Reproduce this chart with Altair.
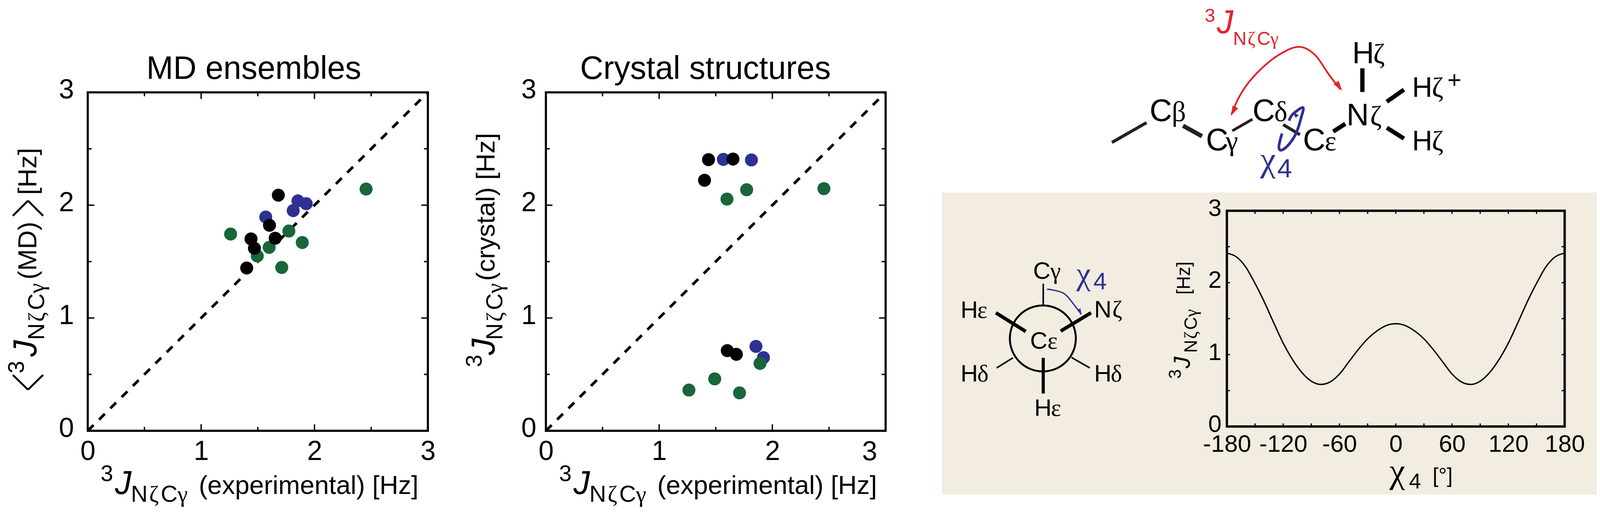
import altair as alt
import pandas as pd

# ---- data ----
md_green_x = [1.26, 1.495, 1.60, 1.774, 1.892, 1.711, 2.455]
md_green_y = [1.744, 1.55, 1.626, 1.771, 1.669, 1.448, 2.143]
md_black_x = [1.402, 1.44, 1.47, 1.603, 1.653, 1.681]
md_black_y = [1.443, 1.701, 1.618, 1.822, 1.707, 2.089]
md_blue_x = [1.57, 1.812, 1.854, 1.927]
md_blue_y = [1.895, 1.952, 2.038, 2.013]

cr_green_x = [1.599, 1.773, 2.455, 1.263, 1.491, 1.71, 1.891]
cr_green_y = [2.054, 2.137, 2.147, 0.361, 0.46, 0.336, 0.598]
cr_black_x = [1.436, 1.652, 1.401, 1.602, 1.682]
cr_black_y = [2.404, 2.409, 2.221, 0.711, 0.678]
cr_blue_x = [1.567, 1.815, 1.855, 1.921]
cr_blue_y = [2.406, 2.401, 0.748, 0.649]

chi4 = [-180, -170, -160, -150, -140, -130, -120, -110, -100, -90, -80, -70, -60, -50, -40, -30, -20, -10, 0,
        10, 20, 30, 40, 50, 60, 70, 80, 90, 100, 110, 120, 130, 140, 150, 160, 170, 180]
j_chi4 = [2.41, 2.36, 2.22, 1.99, 1.73, 1.44, 1.16, 0.93, 0.75, 0.63, 0.585, 0.62, 0.73, 0.90, 1.07, 1.22, 1.33, 1.405, 1.43,
          1.405, 1.33, 1.22, 1.07, 0.90, 0.73, 0.62, 0.585, 0.63, 0.75, 0.93, 1.16, 1.44, 1.73, 1.99, 2.22, 2.36, 2.41]

diag = [0, 3]
minor_ticks = [0.5, 1.5, 2.5]
major_ticks = [1, 2]
inset_x_ticks = [-150, -120, -90, -60, -30, 0, 30, 60, 90, 120, 150]
inset_y_ticks = [0.5, 1, 1.5, 2, 2.5]
inset_x_labels = [-180, -120, -60, 0, 60, 120, 180]

GREEN, BLUE, RED, BEIGE = "#18663a", "#2e3192", "#e3232a", "#f2ece1"
SANS, SERIF = "Liberation Sans", "Liberation Serif"

PW, PH = 4113, 1324
layers = []


def canvas_x(**kw):
    return alt.X("x:Q", scale=alt.Scale(domain=[0, PW], range=[-8, PW - 8], nice=False, zero=False), axis=None, **kw)


def canvas_y(**kw):
    return alt.Y("y:Q", scale=alt.Scale(domain=[0, PH], range=[-8, PH - 8], nice=False, zero=False), axis=None, **kw)


def plot_layers(box, xdom, ydom, xvals, yvals, series, xticks, yticks, font, ylab_pad, xlab_pad, frame=5.5, curve=None,
                diag_line=True, fix3=None):
    left, top, right, bottom = box
    xs = alt.Scale(domain=xdom, range=[left - 8, right - 8], nice=False, zero=False)
    ys = alt.Scale(domain=ydom, range=[bottom - 8, top - 8], nice=False, zero=False)
    out = []
    # labelled axes
    ax_x = alt.Axis(orient="bottom", offset=(bottom - 8) - (PH - 24), values=xvals, labelExpr="'' + datum.value", domain=False, ticks=False,
                    grid=False, title=None, labelFont=SANS, labelFontSize=font, labelColor="black", zindex=1,
                    labelPadding=xlab_pad, labelFlush=False, labelBound=False, labelOverlap=False)
    ax_y = alt.Axis(orient="left", offset=-(left - 8), values=yvals, labelExpr="'' + datum.value", domain=False, ticks=False,
                    grid=False, title=None, labelFont=SANS, labelFontSize=font, labelColor="black", zindex=1,
                    labelPadding=ylab_pad, labelOffset=-6, labelFlush=False, labelBound=False, labelOverlap=False)
    frame_df = pd.DataFrame({"x": [xdom[0]], "x2": [xdom[1]], "y": [ydom[0]], "y2": [ydom[1]]})
    out.append(alt.Chart(frame_df).mark_rect(fillOpacity=0, stroke="black", strokeWidth=frame).encode(
        x=alt.X("x:Q", scale=xs, axis=ax_x), x2="x2:Q", y=alt.Y("y:Q", scale=ys, axis=ax_y), y2="y2:Q"))
    # inward ticks on all four edges
    for vals, ln, w in xticks:
        d = pd.DataFrame({"v": vals})
        for a, b in ((bottom, bottom - ln), (top, top + ln)):
            out.append(alt.Chart(d).mark_rule(color="black", strokeWidth=w).encode(
                x=alt.X("v:Q", scale=xs, axis=None), y=alt.value(a - 8), y2=alt.value(b - 8)))
    for vals, ln, w in yticks:
        d = pd.DataFrame({"v": vals})
        for a, b in ((left, left + ln), (right, right - ln)):
            out.append(alt.Chart(d).mark_rule(color="black", strokeWidth=w).encode(
                y=alt.Y("v:Q", scale=ys, axis=None), x=alt.value(a - 8), x2=alt.value(b - 8)))
    if diag_line:
        d = pd.DataFrame({"a": diag, "b": diag})
        out.append(alt.Chart(d).mark_line(color="black", strokeWidth=7, strokeDash=[21, 20]).encode(
            x=alt.X("a:Q", scale=xs, axis=None), y=alt.Y("b:Q", scale=ys, axis=None)))
    for xv, yv, col in series:
        d = pd.DataFrame({"a": xv, "b": yv})
        out.append(alt.Chart(d).mark_point(filled=True, opacity=1, size=1120, color=col, shape="circle").encode(
            x=alt.X("a:Q", scale=xs, axis=None), y=alt.Y("b:Q", scale=ys, axis=None)))
    if curve is not None:
        d = pd.DataFrame({"a": curve[0], "b": curve[1]})
        out.append(alt.Chart(d).mark_line(color="black", strokeWidth=3.5, interpolate="monotone").encode(
            x=alt.X("a:Q", scale=xs, axis=None), y=alt.Y("b:Q", scale=ys, axis=None)))
    if fix3 is not None:
        d = pd.DataFrame({"a": [fix3], "b": [0], "t": [str(fix3)]})
        out.append(alt.Chart(d).mark_text(font=SANS, fontSize=font, baseline="top", dx=-41, dy=xlab_pad + 1, color="black").encode(
            x=alt.X("a:Q", scale=xs, axis=None), y=alt.Y("b:Q", scale=ys, axis=None), text="t:N"))
    return out


# ---- annotation pieces ----
texts = []


def T(x, y, s, size, color="black", font="sans", angle=0):
    texts.append(dict(x=x, y=y, t=s, size=size, color=color, font=font, angle=angle))


def sub(x, y, size, color="black", vertical=False):
    k = size / 60
    for s, off, f in (("N", 0, "sans"), ("ζ", 47, "serif"), ("C", 77, "sans"), ("γ", 120, "serif")):
        if vertical:
            T(x, y - off * k, s, size, color, f, 270)
        else:
            T(x + off * k, y, s, size, color, f)


def xlabel(dx):
    T(1440 + dx, 1236, "3", 58)
    T(1477 + dx, 1269, "J", 85, font="italic")
    sub(1518 + dx, 1289, 60)
    T(1693 + dx, 1269, "(experimental) [Hz]", 67)


# titles
T(377, 199, "MD ensembles", 83)
T(1494, 199, "Crystal structures", 83)
xlabel(-1181)
xlabel(0)

# panel 1 y label
T(61, 958, "3", 58, angle=270)
T(94, 915, "J", 85, font="italic", angle=270)
sub(114, 872, 60, vertical=True)
T(94, 716, "(MD)", 67, angle=270)
T(94, 498, "[Hz]", 68, angle=270)

# panel 2 y label
T(1241, 942, "3", 58, angle=270)
T(1274, 911, "J", 85, font="italic", angle=270)
sub(1294, 872, 60, vertical=True)
T(1274, 720, "(crystal) [Hz]", 68, angle=270)

# inset labels
T(3041, 972, "3", 44, angle=270)
T(3065, 945, "J", 60, font="italic", angle=270)
sub(3083, 905, 46, vertical=True)
T(3065, 755, "[Hz]", 48, angle=270)
T(3579, 1240, "χ", 90, font="serif")
T(3629, 1255, "4", 56)
T(3690, 1240, "[°]", 54)

# molecule
for x, y, a, g, gx, size in [
    (2961, 308, "C", "β", 3018, 80), (3106, 383, "C", "γ", 3157, 80), (3226, 308, "C", "δ", 3282, 80),
    (3356, 383, "C", "ε", 3412, 80), (3468, 319, "N", "ζ", 3529, 80), (3483, 159, "H", "ζ", 3537, 78),
    (3637, 245, "H", "ζ", 3688, 72), (3637, 383, "H", "ζ", 3688, 72),
]:
    T(x, y, a, size)
    T(gx, y, g, 72, font="serif")
T(3728, 222, "+", 62)
T(3103, 52, "3", 48, RED)
T(3134, 81, "J", 85, RED, "italic")
sub(3176, 112, 48, RED)
T(3246, 437, "χ", 90, BLUE, "serif")
T(3290, 453, "4", 68, BLUE)

# Newman projection
for x, y, a, g, gx in [
    (2661, 714, "C", "γ", 2705), (2818, 814, "N", "ζ", 2865), (2474, 815, "H", "ε", 2517),
    (2653, 894, "C", "ε", 2698), (2474, 979, "H", "δ", 2517), (2818, 979, "H", "δ", 2861),
    (2664, 1067, "H", "ε", 2707),
]:
    T(x, y, a, 62)
    T(gx, y, g, 62, font="serif")
T(2772, 728, "χ", 84, BLUE, "serif")
T(2816, 742, "4", 62, BLUE)

bonds = pd.DataFrame(
    [
        (2864, 363, 2953, 312, 8, "#231f20"), (3047, 320, 3096, 347, 11, "#231f20"), (3174, 333, 3226, 303, 7, "#231f20"),
        (3305, 317, 3348, 343, 8, "#231f20"), (3434, 335, 3465, 315, 11, "black"), (3509, 172, 3509, 233, 11, "black"),
        (3572, 258, 3616, 227, 11, "black"), (3572, 325, 3616, 353, 11, "black"),
        (2687, 727, 2687, 784, 4, "black"), (2732, 849, 2810, 802, 9, "black"), (2565, 802, 2642, 850, 9, "black"),
        (2567, 944, 2609, 918, 4, "black"), (2807, 944, 2760, 917, 4, "black"), (2687, 918, 2687, 1010, 8, "black"),
        # angle brackets of the y label
        (33, 552, 72, 513, 5, "black"), (111, 552, 72, 513, 5, "black"),
        (33, 962, 72, 1000, 5, "black"), (111, 962, 72, 1000, 5, "black"),
    ],
    columns=["x", "y", "x2", "y2", "w", "c"],
)

red_arc = pd.DataFrame({"x": [3172, 3193, 3223, 3269, 3310, 3341, 3366, 3392, 3422, 3452],
                        "y": [290, 243, 200, 155, 128, 117, 122, 143, 187, 226]})
blue_twist = pd.DataFrame({"x": [3320, 3330, 3356, 3351, 3338, 3318, 3300, 3294, 3302],
                           "y": [307, 290, 273, 300, 340, 370, 383, 373, 340]})
blue_arc = pd.DataFrame({"x": [2697, 2740, 2770, 2785], "y": [741, 752, 786, 806]})
heads = pd.DataFrame({"x": [3176, 3449, 3335, 2782], "y": [283, 219, 290, 800], "a": [207, 144, 315, 155],
                      "c": [RED, RED, BLUE, BLUE], "s": [700, 700, 300, 260]})
newman_ring = pd.DataFrame({"x": [2686], "y": [868]})
beige = pd.DataFrame({"x": [2426], "x2": [4113], "y": [492], "y2": [1270]})

# ---- assemble ----
layers.append(alt.Chart(beige).mark_rect(color=BEIGE).encode(x=canvas_x(), x2="x2:Q", y=canvas_y(), y2="y2:Q"))

sq_xticks = [(minor_ticks, 10, 3.5), (major_ticks, 17, 3.5)]
layers += plot_layers((226, 234, 1102, 1106), [0, 3], [0, 3], [0, 1, 2, 3], [0, 1, 2, 3],
                      [(md_blue_x, md_blue_y, BLUE), (md_green_x, md_green_y, GREEN), (md_black_x, md_black_y, "black")],
                      sq_xticks, sq_xticks, 70, 36, 20)
layers += plot_layers((1406, 234, 2281, 1106), [0, 3], [0, 3], [0, 1, 2], [0, 1, 2, 3],
                      [(cr_blue_x, cr_blue_y, BLUE), (cr_green_x, cr_green_y, GREEN), (cr_black_x, cr_black_y, "black")],
                      sq_xticks, sq_xticks, 70, 25, 20, fix3=3)
layers += plot_layers((3160, 539, 4030, 1095), [-180, 180], [0, 3], inset_x_labels, [0, 1, 2, 3], [],
                      [(inset_x_ticks, 8, 3)], [(inset_y_ticks, 8, 3)], 62, 14, 16, frame=6, curve=(chi4, j_chi4), diag_line=False)

layers.append(alt.Chart(bonds).mark_rule().encode(
    x=canvas_x(), x2="x2:Q", y=canvas_y(), y2="y2:Q",
    strokeWidth=alt.StrokeWidth("w:Q", scale=None), color=alt.Color("c:N", scale=None)))
layers.append(alt.Chart(newman_ring).mark_point(shape="circle", size=28900, color="black", strokeWidth=5, opacity=1).encode(
    x=canvas_x(), y=canvas_y()))
for df, col, w in ((red_arc, RED, 4.5), (blue_twist, BLUE, 7), (blue_arc, BLUE, 3.5)):
    d = df.assign(i=range(len(df)))
    layers.append(alt.Chart(d).mark_line(color=col, strokeWidth=w, interpolate="cardinal").encode(
        x=canvas_x(), y=canvas_y(), order="i:Q"))
layers.append(alt.Chart(heads).mark_point(filled=True, shape="M0,-1L-0.6,1L0.6,1Z", opacity=1).encode(
    x=canvas_x(), y=canvas_y(), angle=alt.Angle("a:Q", scale=None), color=alt.Color("c:N", scale=None),
    size=alt.Size("s:Q", scale=None)))

tdf = pd.DataFrame(texts)
styles = {"sans": dict(font=SANS), "serif": dict(font=SERIF), "italic": dict(font=SANS, fontStyle="italic")}
for key, st in styles.items():
    layers.append(alt.Chart(tdf[tdf.font == key]).mark_text(align="left", baseline="alphabetic", **st).encode(
        x=canvas_x(), y=canvas_y(), text="t:N", size=alt.Size("size:Q", scale=None),
        color=alt.Color("color:N", scale=None), angle=alt.Angle("angle:Q", scale=None)))

chart = (
    alt.layer(*layers)
    .resolve_scale(x="independent", y="independent")
    .resolve_axis(x="independent", y="independent")
    .properties(width=PW - 8, height=PH - 24, padding=0, background="white",
                autosize=alt.AutoSizeParams(type="none"))
    .configure_view(stroke=None)
)
chart.save("out.html", embed_options={"renderer": "svg", "actions": False})
